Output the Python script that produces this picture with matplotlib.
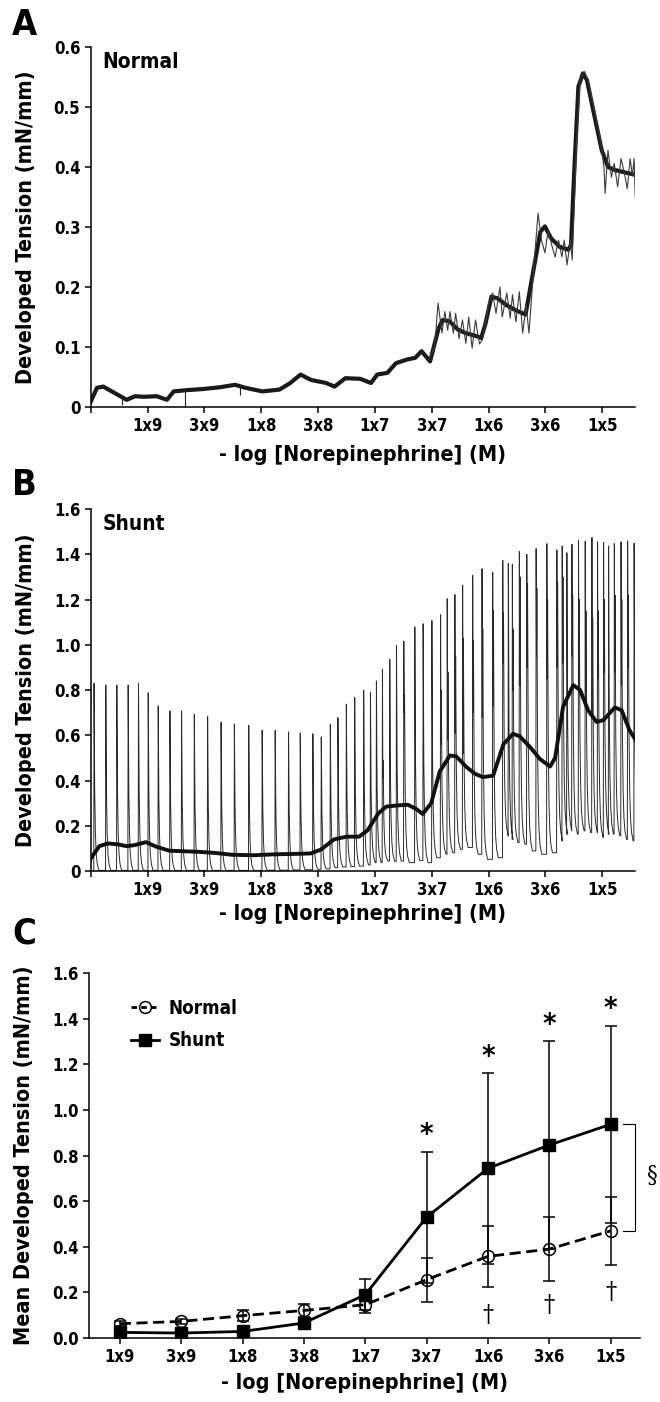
import matplotlib.pyplot as plt
from matplotlib.lines import Line2D
import numpy as np

plt.rcParams['font.family'] = ['DejaVu Sans']
plt.rcParams['font.stretch'] = 'condensed'
plt.rcParams['font.weight'] = 'bold'
plt.rcParams['axes.labelweight'] = 'bold'

conc_labels = ['1x9', '3x9', '1x8', '3x8', '1x7', '3x7', '1x6', '3x6', '1x5']

# ---- panel A : normal vessel, smoothed trace + raw trace
a_smooth_x = [0, 0.11, 0.22, 0.37, 0.52, 0.63, 0.78, 0.93, 1.16, 1.34, 1.46, 1.68, 1.98, 2.28,
              2.54, 2.72, 3.02, 3.32, 3.51, 3.69, 3.88, 4.14, 4.29, 4.48, 4.74, 4.93, 5.04,
              5.22, 5.37, 5.56, 5.71, 5.82, 5.97, 6.12, 6.19, 6.31, 6.46, 6.6, 6.79, 6.87,
              6.94, 7.05, 7.16, 7.31, 7.46, 7.65, 7.8, 7.91, 7.99, 8.1, 8.25, 8.4, 8.45,
              8.51, 8.58, 8.66, 8.73, 8.84, 8.99, 9.1, 9.22, 9.44, 9.58]
a_smooth_y = [0.009, 0.032, 0.034, 0.026, 0.018, 0.012, 0.018, 0.017, 0.018, 0.012, 0.026, 0.028,
              0.03, 0.033, 0.037, 0.032, 0.026, 0.029, 0.04, 0.054, 0.045, 0.04, 0.034, 0.048,
              0.047, 0.04, 0.054, 0.057, 0.073, 0.079, 0.082, 0.093, 0.076, 0.131, 0.145, 0.143,
              0.129, 0.123, 0.118, 0.115, 0.137, 0.184, 0.181, 0.17, 0.162, 0.154, 0.234, 0.292,
              0.301, 0.281, 0.267, 0.262, 0.27, 0.40, 0.534, 0.556, 0.545, 0.495, 0.428, 0.40,
              0.395, 0.39, 0.387]
a_raw_x = [5.95, 6.05, 6.11, 6.18, 6.23, 6.28, 6.32, 6.38, 6.42, 6.48, 6.54, 6.6, 6.65, 6.71,
           6.77, 6.84, 6.89, 6.95, 7.0, 7.07, 7.13, 7.2, 7.24, 7.32, 7.38, 7.42, 7.48, 7.54,
           7.6, 7.66, 7.71, 7.8, 7.87, 7.93, 7.99, 8.05, 8.11, 8.17, 8.23, 8.29, 8.33, 8.38,
           8.44, 8.47, 8.55, 8.61, 8.69, 8.76, 8.85, 8.97, 9.03, 9.05, 9.1, 9.16, 9.21, 9.27,
           9.33, 9.39, 9.44, 9.49, 9.53, 9.56, 9.58]
a_raw_y = [0.08, 0.10, 0.173, 0.123, 0.159, 0.128, 0.159, 0.123, 0.156, 0.114, 0.145, 0.106,
           0.15, 0.098, 0.145, 0.105, 0.112, 0.14, 0.173, 0.19, 0.156, 0.2, 0.15, 0.19, 0.148,
           0.187, 0.142, 0.192, 0.123, 0.17, 0.123, 0.24, 0.323, 0.278, 0.257, 0.295, 0.27,
           0.25, 0.278, 0.25, 0.278, 0.237, 0.278, 0.245, 0.445, 0.545, 0.559, 0.539, 0.5,
           0.445, 0.398, 0.356, 0.428, 0.383, 0.406, 0.367, 0.414, 0.389, 0.364, 0.414, 0.385,
           0.414, 0.35]
# single downward blips in the early trace
a_blip_x = [0.55, 1.66, 2.62]
a_blip_top = [0.018, 0.028, 0.037]
a_blip_bot = [0.004, 0.0, 0.02]

# ---- panel B : shunt vessel, spike train (position, peak, trough after) + smoothed line
b_spike_x = [0.058, 0.265, 0.459, 0.658, 0.84, 1.011, 1.187, 1.393, 1.598, 1.822, 2.056, 2.293,
             2.527, 2.78, 3.016, 3.245, 3.48, 3.686, 3.908, 4.056, 4.215, 4.349, 4.497,
             4.644, 4.802, 4.921, 5.026, 5.132, 5.261, 5.379, 5.508, 5.702, 5.848, 6.002,
             6.155, 6.272, 6.407, 6.543, 6.72, 6.884, 7.072, 7.249, 7.347, 7.418, 7.541,
             7.672, 7.836, 8.025, 8.201, 8.295, 8.377, 8.466, 8.582, 8.7, 8.818, 8.917,
             9.023, 9.111, 9.212, 9.33, 9.446, 9.56]
b_spike_peak = [0.83, 0.822, 0.822, 0.822, 0.83, 0.788, 0.73, 0.708, 0.708, 0.693, 0.684, 0.658,
                0.65, 0.644, 0.622, 0.622, 0.615, 0.61, 0.607, 0.593, 0.649, 0.678, 0.738,
                0.767, 0.80, 0.79, 0.84, 0.893, 0.936, 0.997, 1.015, 1.079, 1.093, 1.107,
                1.133, 1.204, 1.222, 1.264, 1.307, 1.336, 1.321, 1.373, 1.36, 1.356, 1.412,
                1.40, 1.425, 1.447, 1.419, 1.437, 1.407, 1.444, 1.462, 1.458, 1.474, 1.455,
                1.452, 1.437, 1.447, 1.455, 1.459, 1.449]
b_spike_base = [0.003, 0.003, 0.003, 0.003, 0.003, 0.003, 0.003, 0.003, 0.003, 0.003, 0.003,
                0.003, 0.003, 0.003, 0.004, 0.004, 0.005, 0.006, 0.008, 0.01, 0.015, 0.018,
                0.02, 0.022, 0.027, 0.037, 0.037, 0.044, 0.043, 0.044, 0.037, 0.047, 0.037,
                0.059, 0.074, 0.081, 0.096, 0.104, 0.074, 0.052, 0.059, 0.156, 0.14, 0.126,
                0.119, 0.089, 0.074, 0.081, 0.133, 0.163, 0.178, 0.163, 0.178, 0.17, 0.17,
                0.148, 0.163, 0.163, 0.156, 0.14, 0.133, 0.126]
# second (shorter) contraction riding on the falling edge of some spikes
b_sec_idx = [27, 30, 34, 35, 36, 37, 38, 39, 40, 41, 43, 44, 45, 46, 47, 48, 49, 51, 52, 53,
             54, 55, 56, 58, 59, 60]
b_sec_top = [0.49, 0.78, 0.8, 0.88, 0.95, 1.03, 1.02, 1.07, 1.15, 1.14, 1.07, 1.3, 1.27, 1.25,
             1.2, 1.28, 1.3, 1.22, 1.2, 1.15, 1.12, 1.15, 1.2, 1.22, 1.2, 1.22]
b_sec_low = [0.41, 0.7, 0.56, 0.58, 0.61, 0.52, 0.7, 0.68, 0.73, 0.92, 0.8, 0.82, 0.9, 0.95,
             0.85, 0.9, 0.92, 0.95, 0.8, 0.72, 0.68, 0.85, 0.88, 0.88, 0.82, 0.9]
b_smooth_x = [0, 0.15, 0.3, 0.48, 0.63, 0.78, 0.97, 1.15, 1.38, 1.6, 1.9, 2.19, 2.49, 2.86,
              3.23, 3.61, 3.87, 4.05, 4.28, 4.5, 4.72, 4.87, 5.06, 5.2, 5.39, 5.58, 5.73, 5.84,
              5.99, 6.14, 6.32, 6.43, 6.61, 6.76, 6.9, 7.08, 7.26, 7.43, 7.55, 7.73, 7.9, 8.08,
              8.17, 8.31, 8.49, 8.61, 8.75, 8.9, 9.02, 9.22, 9.34, 9.48, 9.58]
b_smooth_y = [0.055, 0.11, 0.122, 0.118, 0.11, 0.115, 0.128, 0.108, 0.09, 0.088, 0.085, 0.08,
              0.072, 0.07, 0.074, 0.076, 0.078, 0.095, 0.14, 0.152, 0.152, 0.18, 0.255, 0.285,
              0.29, 0.293, 0.274, 0.252, 0.3, 0.44, 0.511, 0.507, 0.46, 0.43, 0.415, 0.422,
              0.56, 0.607, 0.595, 0.548, 0.496, 0.462, 0.5, 0.726, 0.822, 0.80, 0.711, 0.659,
              0.667, 0.723, 0.711, 0.622, 0.582]

# ---- panel C : group means +/- SD
c_pos = np.arange(1, 10)
c_normal = [0.063, 0.073, 0.098, 0.121, 0.146, 0.256, 0.358, 0.39, 0.47]
c_normal_err = [0.01, 0.01, 0.023, 0.03, 0.036, 0.096, 0.133, 0.142, 0.148]
c_shunt = [0.025, 0.022, 0.029, 0.066, 0.19, 0.53, 0.744, 0.846, 0.937]
c_shunt_err = [0.008, 0.008, 0.01, 0.012, 0.069, 0.287, 0.418, 0.454, 0.432]
star_pos = [6, 7, 8, 9]
star_y = [0.89, 1.23, 1.37, 1.44]
dagger_pos = [7, 8, 9]
dagger_y = [0.098, 0.143, 0.20]

xlab = '- log [Norepinephrine] (M)'
fig = plt.figure(figsize=(6.6, 14.02), dpi=100)

def style_axis(ax):
    for s in ['top', 'right']:
        ax.spines[s].set_visible(False)
    for s in ['left', 'bottom']:
        ax.spines[s].set_linewidth(1.1)
    ax.tick_params(direction='out', length=4, width=1.1, labelsize=12)

# shape of one contraction: time offsets and fraction of the height left
decay_dt = [0.012, 0.024, 0.038, 0.056, 0.085]
decay_frac = [0.42, 0.2, 0.09, 0.035, 0.0]

############ A ############
axA = fig.add_axes([0.1375, 0.7097, 0.825, 0.2568])
axA.plot(a_smooth_x, a_smooth_y, color='#1a1a1a', lw=3, solid_joinstyle='round')
axA.plot(a_raw_x, a_raw_y, color='#3a3a3a', lw=0.8)
axA.vlines(a_blip_x, a_blip_bot, a_blip_top, color='#222222', lw=0.8)
axA.set_xlim(0, 9.58)
axA.set_ylim(0, 0.6)
axA.set_yticks([0, 0.1, 0.2, 0.3, 0.4, 0.5, 0.6])
axA.set_yticklabels(['0', '0.1', '0.2', '0.3', '0.4', '0.5', '0.6'])
axA.set_xticks(range(10))
axA.set_xticklabels([''] + conc_labels)
axA.set_ylabel('Developed Tension (mN/mm)', fontsize=15.5)
axA.set_xlabel(xlab, fontsize=15.5, labelpad=7)
axA.text(0.022, 0.985, 'Normal', transform=axA.transAxes, fontsize=15, va='top')
style_axis(axA)
axA.yaxis.set_label_coords(-0.1, 0.5)

############ B ############
axB = fig.add_axes([0.1375, 0.3787, 0.825, 0.2582])
tx, ty = [0.0], [0.0]
prev_base = 0.0
for k in range(len(b_spike_x)):
    x0, pk, bs = b_spike_x[k], b_spike_peak[k], b_spike_base[k]
    tx += [x0 - 0.005, x0]
    ty += [prev_base, pk]
    top = pk
    if k in b_sec_idx:
        j = b_sec_idx.index(k)
        tx += [x0 + 0.007, x0 + 0.013]
        ty += [b_sec_low[j], b_sec_top[j]]
        x0 = x0 + 0.013
        top = b_sec_top[j]
    for dt, f in zip(decay_dt, decay_frac):
        tx.append(x0 + dt)
        ty.append(bs + f * (top - bs))
    prev_base = bs
axB.plot(tx, ty, color='#2a2a2a', lw=0.7)
axB.plot(b_smooth_x, b_smooth_y, color='#111111', lw=2.8, solid_joinstyle='round')
axB.set_xlim(0, 9.58)
axB.set_ylim(0, 1.6)
axB.set_yticks(np.arange(0, 1.61, 0.2))
axB.set_yticklabels(['0', '0.2', '0.4', '0.6', '0.8', '1.0', '1.2', '1.4', '1.6'])
axB.set_xticks(range(10))
axB.set_xticklabels([''] + conc_labels)
axB.set_ylabel('Developed Tension (mN/mm)', fontsize=15.5)
axB.set_xlabel(xlab, fontsize=15.5, labelpad=3)
axB.text(0.022, 0.985, 'Shunt', transform=axB.transAxes, fontsize=15, va='top')
style_axis(axB)
axB.yaxis.set_label_coords(-0.1, 0.5)

############ C ############
axC = fig.add_axes([0.135, 0.0456, 0.835, 0.2604])
axC.errorbar(c_pos, c_shunt, yerr=c_shunt_err, color='black', lw=2, ls='-', marker='s',
             ms=8, mfc='black', ecolor='black', elinewidth=1.1, capsize=4, capthick=1.1,
             zorder=3)
axC.errorbar(c_pos, c_normal, yerr=c_normal_err, color='black', lw=2, ls=(0, (4, 2)), marker='o',
             ms=8.5, mfc='none', mew=1.1, ecolor='black', elinewidth=1.1, capsize=4,
             capthick=1.1, zorder=4)
for p, y in zip(star_pos, star_y):
    axC.text(p, y, '*', ha='center', va='center', fontsize=21)
for p, y in zip(dagger_pos, dagger_y):
    axC.text(p, y, '\u2020', ha='center', va='center', fontsize=18, fontweight='normal',
             family='DejaVu Serif')
# bracket for overall group difference
axC.plot([9.2, 9.39, 9.39, 9.2], [c_shunt[-1], c_shunt[-1], c_normal[-1], c_normal[-1]],
         color='black', lw=0.8, clip_on=False)
axC.text(9.68, 0.71, '\u00a7', ha='center', va='center', fontsize=17, fontweight='normal',
         family='DejaVu Serif', clip_on=False)
axC.set_xlim(0.5, 9.48)
axC.set_ylim(0, 1.6)
axC.set_yticks(np.arange(0, 1.61, 0.2))
axC.set_yticklabels(['0.0', '0.2', '0.4', '0.6', '0.8', '1.0', '1.2', '1.4', '1.6'])
axC.set_xticks(c_pos)
axC.set_xticklabels(conc_labels)
axC.set_ylabel('Mean Developed Tension (mN/mm)', fontsize=15.5)
axC.set_xlabel(xlab, fontsize=15.5, labelpad=5)
leg_h = [Line2D([], [], color='black', lw=2, ls=(0, (2, 1.5)), marker='o', ms=8.5, mfc='none',
                mew=1.1),
         Line2D([], [], color='black', lw=2, marker='s', ms=8, mfc='black')]
axC.legend(leg_h, ['Normal', 'Shunt'], loc='upper left', bbox_to_anchor=(0.045, 0.975),
           frameon=False, handlelength=1.5, handletextpad=0.5, fontsize=13.5, labelspacing=0.7)
style_axis(axC)
axC.yaxis.set_label_coords(-0.1, 0.5)

# panel letters
fig.text(0.018, 0.982, 'A', fontsize=26, va='center')
fig.text(0.018, 0.654, 'B', fontsize=26, va='center')
fig.text(0.018, 0.334, 'C', fontsize=26, va='center')

fig.savefig('out.png', dpi=100)
